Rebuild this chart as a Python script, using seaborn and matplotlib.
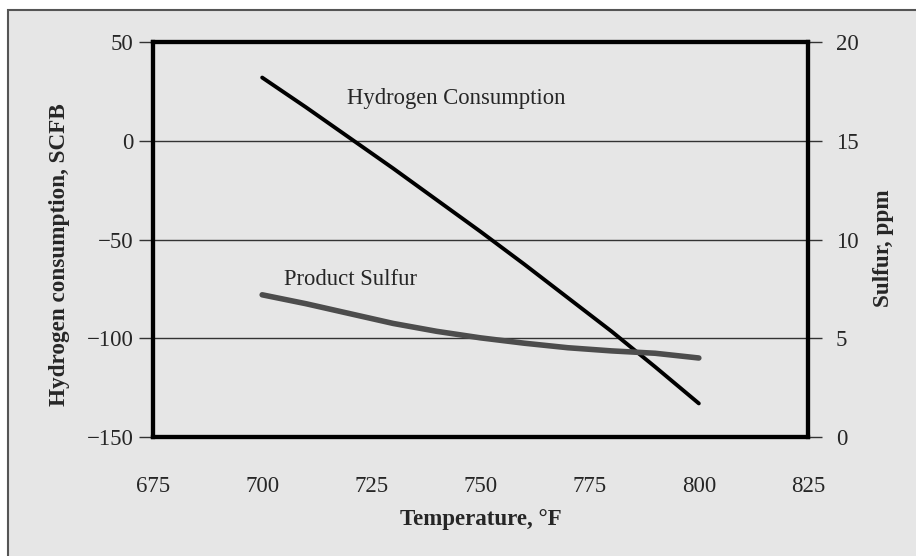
import matplotlib
matplotlib.use("Agg")
import matplotlib.pyplot as plt
import seaborn as sns
import pandas as pd
from matplotlib.patches import Rectangle

# values
temperature = [700, 710, 720, 730, 740, 750, 760, 770, 780, 790, 800]
hydrogen_scfb = [32, 17, 1.5, -14, -30, -46, -62.5, -79.5, -96.5, -114.5, -133]
sulfur_ppm = [7.2, 6.75, 6.25, 5.75, 5.35, 5.02, 4.75, 4.52, 4.36, 4.24, 4.0]

x_ticks = [675, 700, 725, 750, 775, 800, 825]
left_ticks = [-150, -100, -50, 0, 50]
right_ticks = [0, 5, 10, 15, 20]

df = pd.DataFrame({"temp": temperature, "h2": hydrogen_scfb, "sulfur": sulfur_ppm})

sns.set_style("white")
plt.rcParams["font.family"] = ["Liberation Serif", "DejaVu Serif"]

bg = "#e6e6e6"
fig = plt.figure(figsize=(9.16, 5.56), dpi=100, facecolor="white")
fig.patches.append(Rectangle((8 / 916, -0.1), 1.2, (556 - 10) / 556 + 0.1,
                             transform=fig.transFigure, facecolor=bg,
                             edgecolor="#555555", lw=1.5, zorder=-5))

ax = fig.add_axes([153 / 916, 1 - 437 / 556, 655 / 916, 395 / 556])
ax.set_facecolor(bg)
ax2 = ax.twinx()

sns.lineplot(data=df, x="temp", y="h2", ax=ax, color="black", lw=2.8)
sns.lineplot(data=df, x="temp", y="sulfur", ax=ax2, color="#4d4d4d", lw=4)

ax.set_xlim(675, 825)
ax.set_ylim(-150, 50)
ax2.set_ylim(0, 20)
ax.set_xticks(x_ticks)
ax.set_yticks(left_ticks)
ax2.set_yticks(right_ticks)

for y in [-100, -50, 0]:
    ax.axhline(y, color="#333333", lw=1.0, zorder=0)

for a in (ax, ax2):
    for s in a.spines.values():
        s.set_linewidth(3)
        s.set_color("black")
    a.tick_params(direction="out", length=10, width=1, color="#333333",
                  labelsize=16.5)
ax.tick_params(axis="x", pad=18)
ax.tick_params(axis="y", pad=4)
ax2.tick_params(axis="y", pad=10)

ax.set_xlabel("")
ax.set_ylabel("")
ax2.set_ylabel("")
fig.text(481 / 916, 1 - 519 / 556, "Temperature, °F", fontsize=16.5,
         fontweight="bold", ha="center", va="center")
fig.text(60 / 916, 1 - 255 / 556, "Hydrogen consumption, SCFB", fontsize=16.7,
         fontweight="bold", ha="center", va="center", rotation=90)
fig.text(883 / 916, 1 - 248 / 556, "Sulfur, ppm", fontsize=16.7,
         fontweight="bold", ha="center", va="center", rotation=90)

ax.text(719.5, 21.5, "Hydrogen Consumption", fontsize=16.3, va="center", ha="left")
ax.text(705, -70.5, "Product Sulfur", fontsize=16.3, va="center", ha="left")

fig.savefig("out.png", dpi=100, facecolor="white")
